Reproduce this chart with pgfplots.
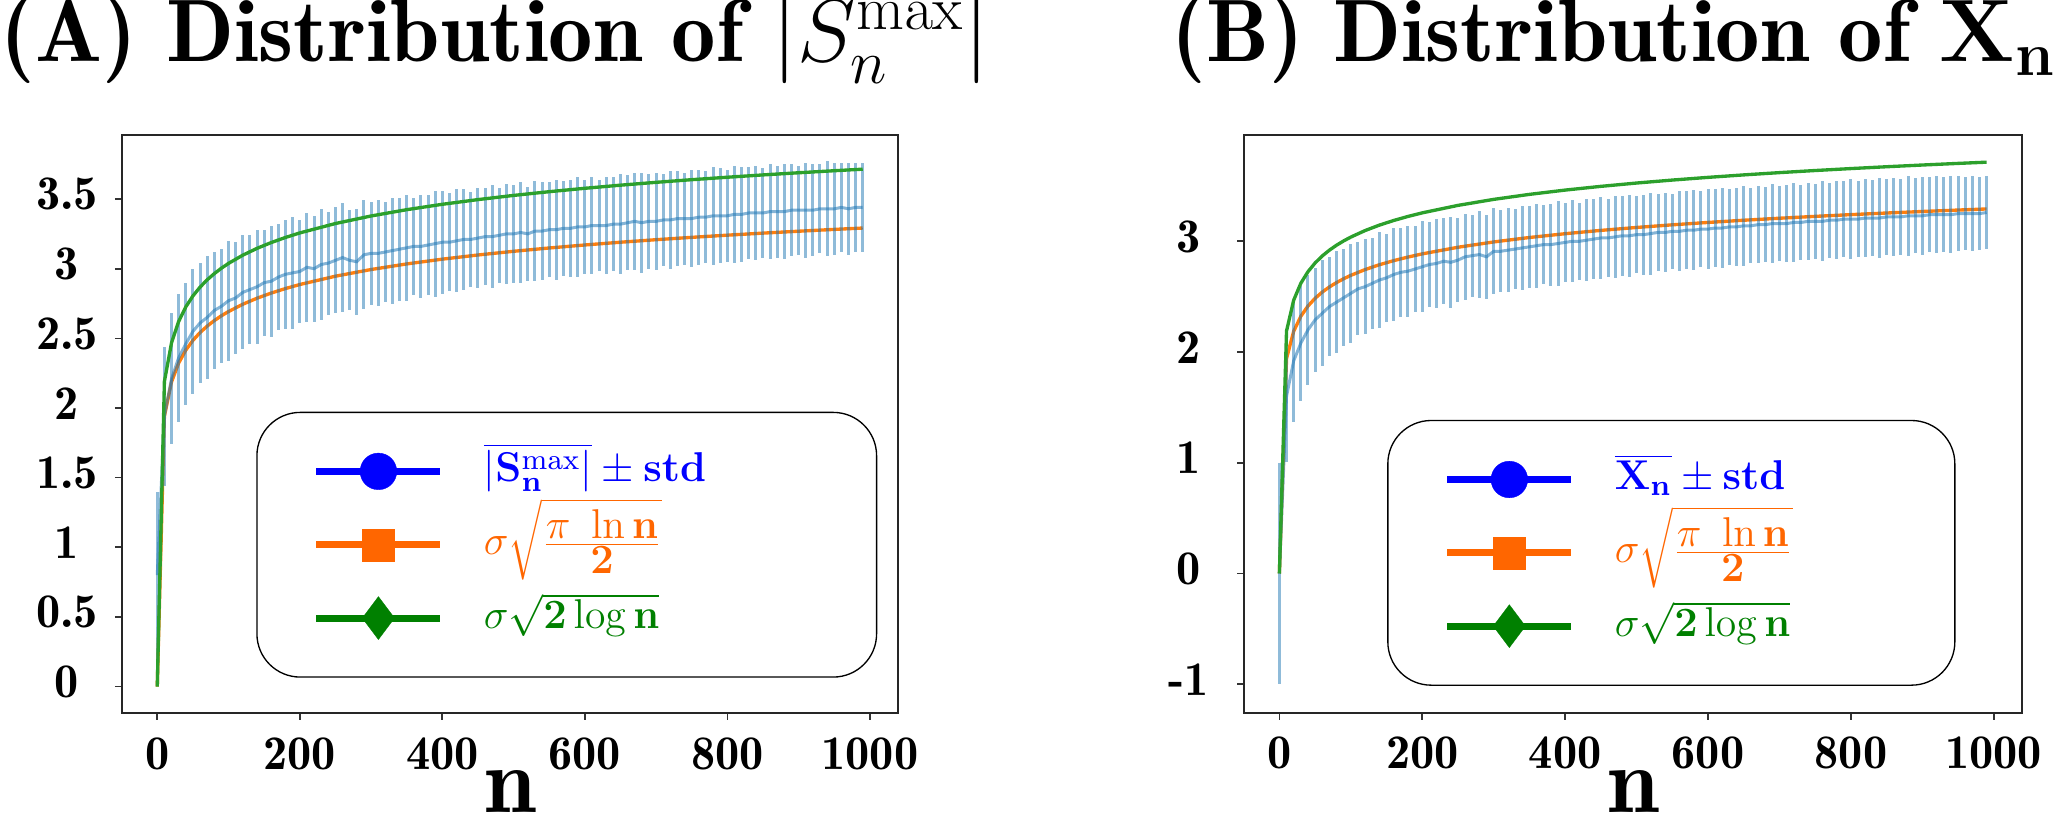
\RequirePackage{fix-cm}
\documentclass[border=0pt]{standalone}
\usepackage{pgfplots}
\pgfplotsset{compat=1.18}
\usepackage{pgfplotstable}
\definecolor{c0}{HTML}{1F77B4}
\definecolor{c1}{HTML}{FF7F0E}
\definecolor{c2}{HTML}{2CA02C}
\definecolor{legblue}{HTML}{0000FF}
\definecolor{legorange}{HTML}{FF6600}
\definecolor{leggreen}{HTML}{008000}
\newcommand{\demi}{\fontseries{b}\selectfont}

\pgfplotstableread{
x m s
0 0.80 0.60
10 1.94 0.50
20 2.21 0.47
30 2.36 0.46
40 2.46 0.44
50 2.55 0.45
60 2.61 0.43
70 2.65 0.44
80 2.70 0.42
90 2.73 0.41
100 2.77 0.43
110 2.79 0.40
120 2.83 0.41
130 2.85 0.39
140 2.87 0.41
150 2.90 0.38
160 2.91 0.40
170 2.94 0.38
180 2.96 0.39
190 2.97 0.40
200 2.98 0.37
210 3.01 0.39
220 3.00 0.38
230 3.03 0.40
240 3.04 0.37
250 3.06 0.38
260 3.08 0.39
270 3.06 0.36
280 3.05 0.38
290 3.10 0.39
300 3.11 0.37
310 3.11 0.38
320 3.12 0.36
330 3.13 0.38
340 3.14 0.37
350 3.15 0.38
360 3.16 0.35
370 3.16 0.37
380 3.17 0.36
390 3.18 0.38
400 3.19 0.37
410 3.19 0.35
420 3.20 0.37
430 3.21 0.36
440 3.21 0.34
450 3.22 0.36
460 3.23 0.35
470 3.23 0.37
480 3.24 0.34
490 3.25 0.36
500 3.25 0.35
510 3.26 0.36
520 3.25 0.34
530 3.27 0.36
540 3.27 0.35
550 3.28 0.34
560 3.28 0.36
570 3.29 0.34
580 3.29 0.35
590 3.30 0.36
600 3.30 0.34
610 3.31 0.35
620 3.31 0.33
630 3.31 0.35
640 3.32 0.34
650 3.32 0.36
660 3.33 0.34
670 3.34 0.35
680 3.33 0.36
690 3.34 0.34
700 3.34 0.35
710 3.35 0.33
720 3.35 0.35
730 3.36 0.34
740 3.36 0.33
750 3.36 0.35
760 3.37 0.34
770 3.37 0.33
780 3.38 0.35
790 3.38 0.34
800 3.38 0.33
810 3.39 0.35
820 3.39 0.34
830 3.40 0.33
840 3.40 0.34
850 3.40 0.32
860 3.41 0.34
870 3.41 0.33
880 3.41 0.34
890 3.42 0.33
900 3.42 0.32
910 3.42 0.34
920 3.42 0.33
930 3.43 0.32
940 3.43 0.34
950 3.43 0.33
960 3.44 0.32
970 3.43 0.33
980 3.44 0.32
990 3.44 0.32
}\leftdata

\pgfplotstableread{
x m s
0 0.00 1.00
10 1.60 0.59
20 1.92 0.55
30 2.08 0.52
40 2.20 0.50
50 2.29 0.47
60 2.35 0.48
70 2.41 0.45
80 2.45 0.46
90 2.49 0.44
100 2.53 0.45
110 2.57 0.42
120 2.59 0.43
130 2.62 0.41
140 2.65 0.43
150 2.67 0.40
160 2.70 0.42
170 2.72 0.40
180 2.73 0.41
190 2.75 0.39
200 2.77 0.41
210 2.79 0.38
220 2.80 0.40
230 2.82 0.39
240 2.81 0.41
250 2.83 0.38
260 2.86 0.39
270 2.87 0.37
280 2.88 0.39
290 2.86 0.38
300 2.91 0.39
310 2.91 0.37
320 2.92 0.38
330 2.93 0.36
340 2.94 0.38
350 2.95 0.37
360 2.96 0.38
370 2.97 0.36
380 2.97 0.37
390 2.98 0.38
400 2.99 0.36
410 3.00 0.37
420 3.00 0.35
430 3.01 0.37
440 3.02 0.36
450 3.03 0.37
460 3.03 0.35
470 3.04 0.37
480 3.05 0.36
490 3.05 0.37
500 3.06 0.35
510 3.06 0.36
520 3.07 0.37
530 3.08 0.35
540 3.08 0.36
550 3.09 0.34
560 3.09 0.36
570 3.10 0.35
580 3.10 0.36
590 3.11 0.34
600 3.11 0.36
610 3.12 0.35
620 3.12 0.36
630 3.13 0.34
640 3.13 0.35
650 3.14 0.36
660 3.14 0.34
670 3.15 0.35
680 3.15 0.34
690 3.16 0.36
700 3.16 0.34
710 3.16 0.35
720 3.17 0.36
730 3.17 0.34
740 3.18 0.35
750 3.18 0.34
760 3.18 0.36
770 3.19 0.34
780 3.19 0.35
790 3.20 0.34
800 3.20 0.36
810 3.20 0.34
820 3.21 0.35
830 3.21 0.34
840 3.21 0.36
850 3.22 0.34
860 3.22 0.35
870 3.22 0.34
880 3.23 0.36
890 3.23 0.34
900 3.23 0.35
910 3.24 0.34
920 3.24 0.35
930 3.24 0.34
940 3.24 0.35
950 3.25 0.34
960 3.25 0.33
970 3.25 0.34
980 3.25 0.33
990 3.26 0.33
}\rightdata

\pgfplotstableread{
x o g
0 0 0
10 1.9408 2.1899
20 2.1869 2.4676
30 2.3225 2.6207
40 2.4152 2.7253
50 2.4852 2.8042
60 2.5412 2.8674
70 2.5876 2.9198
80 2.6273 2.9646
90 2.6619 3.0036
100 2.6925 3.0381
120 2.7446 3.0970
140 2.7882 3.1461
160 2.8252 3.1879
180 2.8576 3.2244
200 2.8863 3.2568
250 2.9461 3.3243
300 2.9941 3.3785
350 3.0342 3.4237
400 3.0685 3.4624
450 3.0984 3.4961
500 3.1249 3.5261
550 3.1487 3.5529
600 3.1703 3.5773
650 3.1901 3.5996
700 3.2082 3.6201
750 3.2251 3.6391
800 3.2407 3.6567
850 3.2554 3.6733
900 3.2691 3.6888
950 3.2821 3.7034
990 3.2919 3.7145
}\curves

\pgfplotsset{
  myaxis/.style={
    scale only axis,
    height=173.4pt,
    xmin=-49.5, xmax=1039.5,
    xtick={0,200,400,600,800,1000},
    xticklabels={0,200,400,600,800,1000},
    tick align=outside,
    tick pos=left,
    major tick length=2.1pt,
    every tick/.style={black!80, line width=0.5pt},
    axis line style={black!85, line width=0.5pt},
    ticklabel style={font=\fontsize{14.5}{14.5}\demi, inner sep=0pt},
    xticklabel style={anchor=base, yshift=-14.7pt},
    yticklabel style={anchor=center, xshift=-14.4pt, yshift=1.4pt},
    xlabel={n},
    xlabel style={font=\fontsize{28}{28}\demi, at={(axis description cs:0.5,0)}, anchor=base, yshift=-30pt, inner sep=0pt},
    legend image code/.code={\draw[mark repeat=2, mark phase=2, #1] plot coordinates {(0pt,0pt) (18.6pt,0pt) (37.2pt,0pt)};},
    legend cell align=left,
    legend style={draw=black, line width=0.4pt, rounded corners=13pt,
      inner xsep=16.8pt, inner ysep=6.7pt,
      nodes={inner sep=0pt, text height=14pt, text depth=8pt},
      font=\fontsize{12.5}{12.5}\selectfont, anchor=south west,
      row sep=0pt, column sep=0pt},
  },
  blueplot/.style={forget plot, draw=c0, draw opacity=0.55, line width=0.9pt, no marks,
    error bars/.cd, y dir=both, y explicit, error mark=none,
    error bar style={line width=0.9pt, c0, opacity=0.5}},
}

\begin{document}
\begin{tikzpicture}
\useasboundingbox (0,0) rectangle (617.1pt,245.7pt);

\node[anchor=base west, inner sep=0pt, font=\fontsize{26.6}{26.6}\demi] at (0pt,227.1pt)
  {(A) Distribution of $\left|S_n^{\max}\right|$};
\node[anchor=base west, inner sep=0pt, font=\fontsize{26.6}{26.6}\demi] at (351.3pt,227.1pt)
  {(B) Distribution of $\mathbf{X_n}$};

\begin{axis}[myaxis, at={(36.6pt,31.8pt)}, anchor=south west, width=232.8pt,
  ymin=-0.19, ymax=3.96,
  ytick={0,0.5,1,1.5,2,2.5,3,3.5},
  yticklabels={0,0.5,1,1.5,2,2.5,3,3.5},
  legend style={at={(0.173,0.061)}}]
\addlegendimage{color=legblue, line width=2.1pt, mark=*, mark size=5.5pt, mark options={solid, line width=0.1pt}}
\addlegendentry{\hspace*{12pt}\makebox[101pt][l]{\textcolor{legblue}{$\overline{|\mathbf{S_n^{\max}}|}\pm\mathbf{std}$}}}
\addlegendimage{color=legorange, line width=2.1pt, mark=square*, mark size=4.8pt, mark options={solid, line width=0.1pt}}
\addlegendentry{\hspace*{12pt}\makebox[101pt][l]{\textcolor{legorange}{$\sigma\sqrt{\frac{\textstyle\pi\ \ln\mathbf{n}}{\textstyle\mathbf{2}}}$}}}
\addlegendimage{color=leggreen, line width=2.1pt, mark=diamond*, mark size=6.45pt, mark options={solid, line width=0.1pt}}
\addlegendentry{\hspace*{12pt}\makebox[101pt][l]{\textcolor{leggreen}{$\sigma\sqrt{\mathbf{2}\log\mathbf{n}}$}}}
\addplot[forget plot, c1, line width=1pt] table[x=x, y=o] {\curves};
\addplot[blueplot] table[x=x, y=m, y error=s] {\leftdata};
\addplot[forget plot, c2, line width=1pt] table[x=x, y=g] {\curves};
\end{axis}

\begin{axis}[myaxis, at={(373.2pt,31.8pt)}, anchor=south west, width=233.4pt,
  ymin=-1.26, ymax=3.96,
  ytick={-1,0,1,2,3},
  yticklabels={-1,0,1,2,3},
  legend style={at={(0.184,0.047)}}]
\addlegendimage{color=legblue, line width=2.1pt, mark=*, mark size=5.5pt, mark options={solid, line width=0.1pt}}
\addlegendentry{\hspace*{12pt}\makebox[85.2pt][l]{\textcolor{legblue}{$\overline{\mathbf{X_n}}\pm\mathbf{std}$}}}
\addlegendimage{color=legorange, line width=2.1pt, mark=square*, mark size=4.8pt, mark options={solid, line width=0.1pt}}
\addlegendentry{\hspace*{12pt}\makebox[85.2pt][l]{\textcolor{legorange}{$\sigma\sqrt{\frac{\textstyle\pi\ \ln\mathbf{n}}{\textstyle\mathbf{2}}}$}}}
\addlegendimage{color=leggreen, line width=2.1pt, mark=diamond*, mark size=6.45pt, mark options={solid, line width=0.1pt}}
\addlegendentry{\hspace*{12pt}\makebox[85.2pt][l]{\textcolor{leggreen}{$\sigma\sqrt{\mathbf{2}\log\mathbf{n}}$}}}
\addplot[forget plot, c1, line width=1pt] table[x=x, y=o] {\curves};
\addplot[blueplot] table[x=x, y=m, y error=s] {\rightdata};
\addplot[forget plot, c2, line width=1pt] table[x=x, y=g] {\curves};
\end{axis}
\end{tikzpicture}
\end{document}
